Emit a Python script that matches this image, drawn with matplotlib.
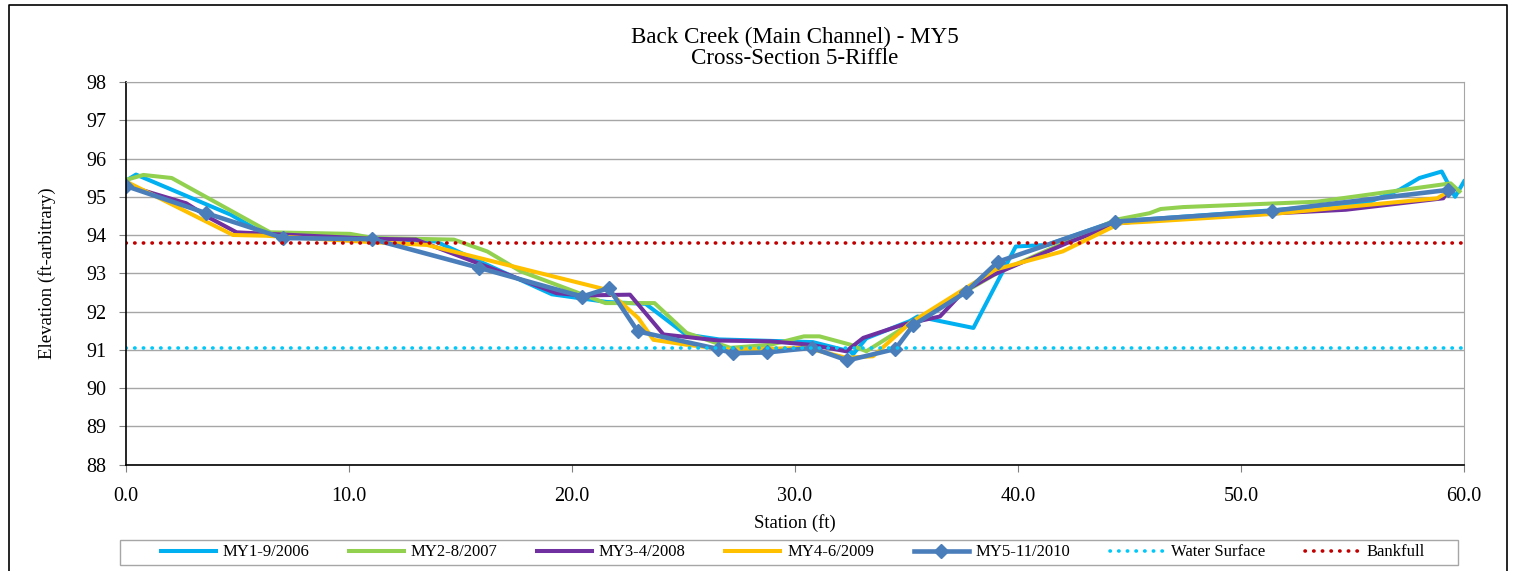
import matplotlib
matplotlib.use("Agg")
from matplotlib import pyplot as plt
from matplotlib.lines import Line2D
from matplotlib.patches import Rectangle

plt.rcParams['font.family'] = ['Liberation Serif', 'DejaVu Serif']

# survey data
my1_x = [0, 0.45, 4.7, 6.3, 11.0, 13.9, 19.1, 21.55, 23.3, 25.1, 26.6, 30.8, 32.5, 32.6, 33.2,
         35.15, 35.5, 38.0, 39.9, 41.3, 44.3, 51.0, 55.6, 57.1, 58.0, 59.0, 59.6, 60.0]
my1_y = [95.42, 95.58, 94.53, 94.0, 93.92, 93.83, 92.45, 92.25, 92.2, 91.4, 91.27, 91.2, 90.95, 90.88, 91.3,
         91.75, 91.87, 91.57, 93.7, 93.74, 94.35, 94.63, 94.83, 95.18, 95.49, 95.66, 95.0, 95.4]

my2_x = [0, 0.78, 2.05, 6.46, 10.05, 11.1, 14.7, 16.2, 17.7, 21.5, 23.7, 25.14, 27.1, 28.9,
         30.4, 31.1, 32.5, 33.2, 35.3, 39.2, 44.4, 45.9, 46.4, 47.4, 53.4, 59.4, 59.8]
my2_y = [95.44, 95.57, 95.49, 94.07, 94.03, 93.92, 93.88, 93.57, 93.05, 92.22, 92.22, 91.44, 91.05, 91.13,
         91.35, 91.35, 91.13, 90.96, 91.73, 93.05, 94.4, 94.57, 94.68, 94.73, 94.87, 95.35, 95.14]

my3_x = [0, 2.7, 3.77, 4.96, 11.1, 13.0, 19.3, 20.5, 22.6, 24.1, 26.6, 28.9, 30.7, 32.3, 33.06,
         34.86, 36.5, 37.55, 38.9, 42.2, 44.5, 45.9, 54.7, 59.07, 59.3]
my3_y = [95.3, 94.83, 94.44, 94.07, 93.9, 93.88, 92.48, 92.42, 92.44, 91.4, 91.24, 91.22, 91.13, 90.96, 91.31,
         91.66, 91.87, 92.52, 92.96, 93.79, 94.3, 94.4, 94.66, 94.96, 95.16]

my4_x = [0, 4.8, 6.3, 10.5, 13.5, 21.55, 22.97, 23.65, 25.14, 27.1, 30.5, 32.3, 33.5, 35.16,
         39.0, 42.0, 44.6, 45.9, 51.4, 58.8, 59.2]
my4_y = [95.4, 94.0, 93.98, 93.83, 93.74, 92.57, 91.83, 91.26, 91.13, 91.0, 91.05, 90.79, 90.83, 91.7,
         93.1, 93.57, 94.31, 94.35, 94.55, 94.96, 95.1]

my5_x = [0, 3.6, 7.05, 11.05, 15.85, 20.45, 21.65, 22.95, 26.55, 27.2, 28.75, 30.75, 32.35,
         34.5, 35.3, 37.65, 39.1, 44.35, 51.4, 59.3]
my5_y = [95.28, 94.57, 93.92, 93.89, 93.14, 92.39, 92.61, 91.48, 91.02, 90.91, 90.93, 91.05, 90.72,
         91.02, 91.64, 92.5, 93.3, 94.35, 94.63, 95.18]

water_surface = 91.05
bankfull = 93.8
x_range = [0, 60]

W, H = 1515, 571
fig = plt.figure(figsize=(W / 100, H / 100), dpi=100)
ax = fig.add_axes([126 / W, 1 - 464.5 / H, (1464 - 126) / W, (464.5 - 82) / H])

ax.plot(my1_x, my1_y, color='#00B0F0', lw=2.9, label='MY1-9/2006')
ax.plot(my2_x, my2_y, color='#92D050', lw=2.9, label='MY2-8/2007')
ax.plot(my3_x, my3_y, color='#7030A0', lw=2.9, label='MY3-4/2008')
ax.plot(my4_x, my4_y, color='#FFC000', lw=2.9, label='MY4-6/2009')
ax.plot(my5_x, my5_y, color='#4A7EBB', lw=3.3, marker='D', markersize=7, label='MY5-11/2010')
ax.plot(x_range, [water_surface] * 2, color='#00C8F8', lw=2.6, ls=(0, (0.1, 2.3)),
        dash_capstyle='round', label='Water Surface')
ax.plot(x_range, [bankfull] * 2, color='#C00000', lw=2.6, ls=(0, (0.1, 2.3)),
        dash_capstyle='round', label='Bankfull')

ax.set_xlim(0, 60)
ax.set_ylim(88, 98)
ax.set_xticks(range(0, 61, 10))
ax.set_xticklabels(['%.1f' % v for v in range(0, 61, 10)])
ax.set_yticks(range(88, 99))
ax.grid(axis='y', color='#A6A6A6', lw=1)
ax.set_axisbelow(True)
ax.tick_params(labelsize=14.5, length=5, width=0.8, color='#808080', direction='out')
ax.tick_params(axis='x', pad=11)
ax.tick_params(axis='y', pad=9)
for s in ['left', 'bottom']:
    ax.spines[s].set_color('black')
    ax.spines[s].set_linewidth(1.2)
ax.spines['top'].set_color('#A6A6A6')
ax.spines['right'].set_color('#A6A6A6')

ax.set_xlabel('Station (ft)', fontsize=13.5, labelpad=6)
ax.set_ylabel('Elevation (ft-arbitrary)', fontsize=13.5)
ax.yaxis.set_label_coords((56 - 126) / 1338, 0.5)

fig.text(795 / W, 1 - 37 / H, 'Back Creek (Main Channel) - MY5', ha='center', va='center', fontsize=16.6)
fig.text(795 / W, 1 - 59 / H, 'Cross-Section 5-Riffle', ha='center', va='center', fontsize=16.6)

# legend box, then the entries spread inside it
fig.add_artist(Rectangle((120 / W, 1 - 565 / H), (1458 - 120) / W, 25 / H, transform=fig.transFigure,
                         facecolor='white', edgecolor='#A6A6A6', lw=1))
fig.legend(loc='center', bbox_to_anchor=(161 / W, 1 - 565 / H, (1425 - 161) / W, 25 / H),
           ncol=7, mode='expand', fontsize=12, frameon=False,
           handlelength=3.3, handletextpad=0.4, borderpad=0, borderaxespad=0)

# outer chart border
fig.add_artist(Line2D([9 / W, 9 / W, 1507 / W, 1507 / W],
                      [0, 1 - 5 / H, 1 - 5 / H, 0], color='black', lw=1.2))

fig.savefig('out.png', dpi=100)
